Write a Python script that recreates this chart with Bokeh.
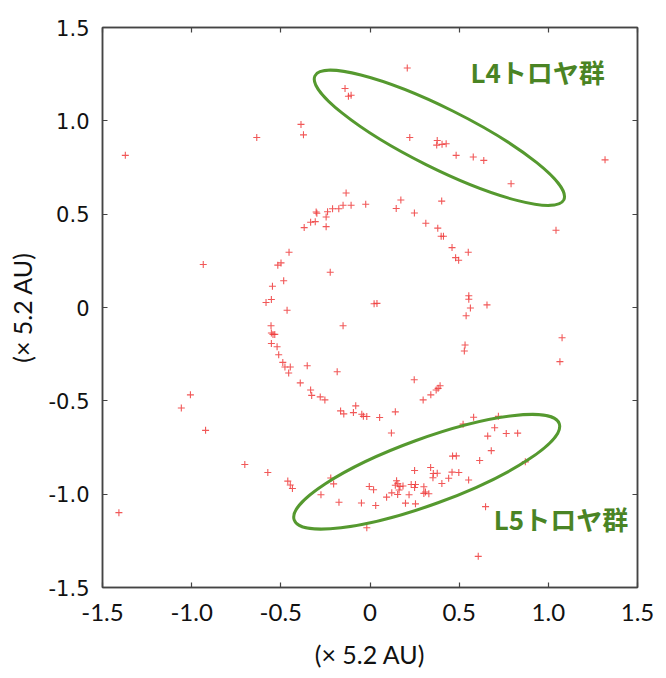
from bokeh.plotting import figure
from bokeh.models import Range1d, FixedTicker, LinearAxis, ColumnDataSource
from bokeh.core.properties import value
from bokeh.embed import file_html
from bokeh.resources import INLINE
import math

# asteroid positions (units of 5.2 AU)
xs = [-0.140, -0.121, -0.106, -0.387, -0.373, -0.635, -1.372, 0.209, 0.223, 0.377,
      0.374, 0.404, 0.427, 0.483, 0.579, 0.638, 0.791, 1.318, -0.134, -0.024,
      -0.106, -0.151, -0.175, -0.210, -0.238, -0.302, -0.298, -0.246, -0.307, -0.333,
      -0.369, -0.246, -0.454, -0.935, -0.499, -0.517, -0.223, -0.484, -0.547, -0.553,
      -0.583, -0.465, 0.023, 0.039, 0.173, 0.147, 0.402, 0.249, 0.313, 0.380,
      0.399, 0.412, 1.043, 0.460, 0.551, 0.480, 0.497, 0.554, 0.554, 0.563,
      0.656, 0.539, -0.151, -0.555, -0.553, -0.544, -0.534, -0.553, -0.521, -0.512,
      -0.489, -0.477, -0.447, -0.456, -0.352, -0.184, -0.391, -0.333, -0.327, -0.279,
      -0.253, -0.080, -0.093, -0.165, -0.147, -0.046, -0.037, -0.018, 0.054, -1.007,
      -1.058, -0.922, -0.702, -0.573, -0.461, -0.447, -0.435, -1.408, 1.077, 1.065,
      0.533, 0.529, 0.248, 0.393, 0.382, 0.371, 0.341, 0.298, 0.142, 0.120,
      0.522, 0.581, 0.720, 0.699, 0.660, 0.764, 0.828, 0.680, 0.615, 0.463,
      0.484, 0.871, 0.460, 0.498, 0.441, 0.403, 0.553, 0.648, 0.607, -0.220,
      -0.204, -0.275, -0.174, -0.048, -0.004, 0.020, -0.018, 0.032, 0.093, 0.122,
      0.149, 0.156, 0.142, 0.168, 0.185, 0.155, 0.163, 0.219, 0.231, 0.255,
      0.250, 0.199, 0.255, 0.250, 0.302, 0.311, 0.330, 0.302, 0.340, 0.355,
      0.377, 0.353]
ys = [1.173, 1.132, 1.137, 0.981, 0.925, 0.911, 0.815, 1.283, 0.911, 0.895,
      0.870, 0.874, 0.877, 0.815, 0.806, 0.788, 0.663, 0.791, 0.613, 0.553,
      0.548, 0.548, 0.529, 0.529, 0.513, 0.512, 0.505, 0.485, 0.460, 0.457,
      0.428, 0.433, 0.296, 0.230, 0.239, 0.227, 0.189, 0.143, 0.114, 0.043,
      0.027, -0.015, 0.020, 0.022, 0.576, 0.530, 0.570, 0.506, 0.451, 0.425,
      0.382, 0.382, 0.414, 0.321, 0.296, 0.267, 0.253, 0.063, 0.044, -0.003,
      0.014, -0.044, -0.098, -0.098, -0.137, -0.144, -0.144, -0.193, -0.210, -0.253,
      -0.294, -0.319, -0.319, -0.351, -0.312, -0.344, -0.404, -0.442, -0.471, -0.479,
      -0.495, -0.527, -0.563, -0.554, -0.570, -0.572, -0.583, -0.584, -0.589, -0.468,
      -0.538, -0.658, -0.841, -0.884, -0.930, -0.951, -0.970, -1.099, -0.162, -0.290,
      -0.201, -0.233, -0.387, -0.419, -0.433, -0.442, -0.468, -0.495, -0.559, -0.672,
      -0.625, -0.588, -0.583, -0.644, -0.689, -0.675, -0.673, -0.767, -0.820, -0.796,
      -0.795, -0.827, -0.882, -0.884, -0.915, -0.943, -0.924, -1.067, -1.333, -0.913,
      -0.945, -1.003, -1.043, -1.047, -0.959, -0.976, -1.180, -1.061, -1.016, -0.993,
      -0.928, -0.944, -0.952, -0.959, -0.956, -1.002, -0.978, -1.003, -0.948, -0.948,
      -0.964, -1.048, -1.052, -0.873, -0.960, -0.988, -0.998, -0.996, -0.857, -0.889,
      -0.888, -0.912]

tick_values = [-1.5, -1.0, -0.5, 0.0, 0.5, 1.0, 1.5]
tick_labels = ["-1.5", "-1.0", "-0.5", "0", "0.5", "1.0", "1.5"]

group_names = ["L4トロヤ群", "L5トロヤ群"]
group_cx = [0.389, 0.318]
group_cy = [0.909, -0.880]
label_x = [0.940, 1.071]
label_y = [1.266, -1.130]

axis_title = "(× 5.2 AU)"

p = figure(width=666, height=678, output_backend="svg", toolbar_location=None,
           x_range=Range1d(-1.5, 1.5), y_range=Range1d(-1.5, 1.5),
           min_border_left=102, min_border_right=29, min_border_top=27, min_border_bottom=91)
p.xgrid.visible = False
p.ygrid.visible = False
p.outline_line_color = "#444444"
p.outline_line_width = 1.5
p.background_fill_color = "white"
p.border_fill_color = "white"

overrides = {v: l for v, l in zip(tick_values, tick_labels)}
blank = {v: "" for v in tick_values}

def style_axis(ax, labels):
    ax.ticker = FixedTicker(ticks=tick_values)
    ax.major_label_overrides = labels
    ax.axis_line_color = "#444444"
    ax.axis_line_width = 1.5
    ax.major_tick_in = 5
    ax.major_tick_out = 0
    ax.major_tick_line_color = "#444444"
    ax.major_tick_line_width = 1.2
    ax.minor_tick_line_color = None

for ax in p.xaxis:
    style_axis(ax, overrides)
    ax.major_label_text_font = "Lato"
    ax.major_label_text_font_size = "24px"
    ax.major_label_text_color = "#111111"
    ax.major_label_standoff = 16
    ax.axis_label = axis_title
    ax.axis_label_text_font = "Lato"
    ax.axis_label_text_font_style = "normal"
    ax.axis_label_text_font_size = "25px"
    ax.axis_label_text_color = "#111111"
    ax.axis_label_standoff = 15

for ax in p.yaxis:
    style_axis(ax, overrides)
    ax.major_label_text_font = "DejaVu Sans"
    ax.major_label_text_font_size = "21px"
    ax.major_label_text_color = "#111111"
    ax.major_label_standoff = 13
    ax.axis_label = axis_title
    ax.axis_label_text_font = "Lato"
    ax.axis_label_text_font_style = "normal"
    ax.axis_label_text_font_size = "25px"
    ax.axis_label_text_color = "#111111"
    ax.axis_label_standoff = 9

top = LinearAxis()
style_axis(top, blank)
p.add_layout(top, "above")
right = LinearAxis()
style_axis(right, blank)
p.add_layout(right, "right")

src = ColumnDataSource(dict(x=xs, y=ys))
p.scatter("x", "y", source=src, marker="cross", size=7, line_color="#ee3b3b",
          line_width=1.1, line_alpha=0.85)

esrc = ColumnDataSource(dict(x=group_cx, y=group_cy, w=[278, 282], h=[60, 66],
                             a=[math.radians(-26.5), math.radians(20)]))
p.ellipse(x="x", y="y", width="w", height="h", angle="a", source=esrc,
          width_units="screen", height_units="screen",
          fill_color=None, line_color="#55992f", line_width=3)

tsrc = ColumnDataSource(dict(x=label_x, y=label_y, t=group_names))
p.text(x="x", y="y", text="t", source=tsrc, text_font=value("Noto Sans CJK JP"),
       text_font_size="26px", text_font_style="bold", text_color="#4a8424",
       text_align="center", text_baseline="middle")

open("out.html", "w").write(file_html(p, INLINE))
